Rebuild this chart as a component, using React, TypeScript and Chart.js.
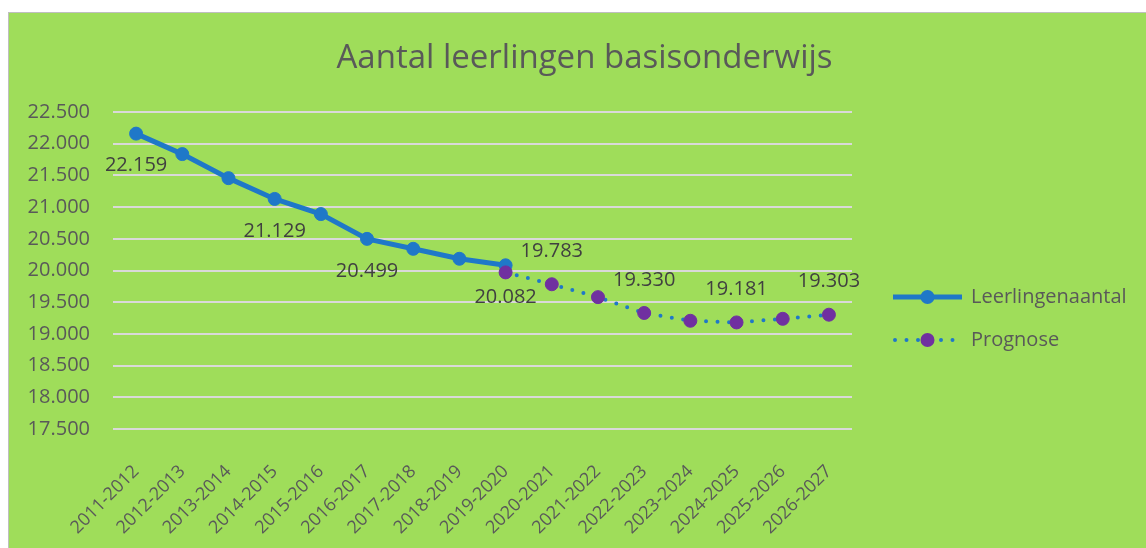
import React, { useEffect, useRef } from "react";
import { Chart, registerables } from "chart.js";

Chart.register(...registerables);

const titleText = "Aantal leerlingen basisonderwijs";
const categories = [
  "2011-2012", "2012-2013", "2013-2014", "2014-2015", "2015-2016", "2016-2017",
  "2017-2018", "2018-2019", "2019-2020", "2020-2021", "2021-2022", "2022-2023",
  "2023-2024", "2024-2025", "2025-2026", "2026-2027",
];
const seriesNames = ["Leerlingenaantal", "Prognose"];
const leerlingen = [22159, 21836, 21457, 21129, 20890, 20499, 20342, 20185, 20082, null, null, null, null, null, null, null];
const prognose = [null, null, null, null, null, null, null, null, 19970, 19783, 19580, 19330, 19207, 19181, 19238, 19303];
const leerlingenLabelIdx = [0, 3, 5, 8];
const prognoseLabelIdx = [9, 11, 13, 15];
const yMin = 17500;
const yMax = 22500;
const yStep = 500;

const BLUE = "#1F78C8";
const PURPLE = "#7030A0";
const BG = "#9FDD5A";
const FONT = '"Open Sans", sans-serif';

const fmt = (v: number) => String(Math.round(v)).replace(/\B(?=(\d{3})+(?!\d))/g, ".");

const overlay = {
  id: "overlay",
  afterDatasetsDraw(chart: any) {
    const ctx = chart.ctx;
    ctx.save();
    ctx.font = `20px ${FONT}`;
    ctx.fillStyle = "#404040";
    ctx.textAlign = "center";
    ctx.textBaseline = "middle";
    const blueMeta = chart.getDatasetMeta(1);
    leerlingenLabelIdx.forEach((i) => {
      const p = blueMeta.data[i];
      const v = leerlingen[i];
      if (p && v != null) ctx.fillText(fmt(v), p.x, p.y + 32);
    });
    const progMeta = chart.getDatasetMeta(0);
    prognoseLabelIdx.forEach((i) => {
      const p = progMeta.data[i];
      const v = prognose[i];
      if (p && v != null) ctx.fillText(fmt(v), p.x, p.y - 33);
    });
    ctx.restore();
  },
  afterDraw(chart: any) {
    const ctx = chart.ctx;
    const ca = chart.chartArea;
    ctx.save();
    // title
    ctx.font = `33px ${FONT}`;
    ctx.fillStyle = "#595959";
    ctx.textAlign = "center";
    ctx.textBaseline = "middle";
    ctx.fillText(titleText, chart.width / 2 + 7, 46);

    // legend
    const lx0 = ca.right + 41;
    const lx1 = ca.right + 110;
    const tx = ca.right + 119;
    const y1 = ca.top + 185;
    const y2 = ca.top + 228;
    ctx.lineCap = "butt";
    ctx.strokeStyle = BLUE;
    ctx.lineWidth = 5;
    ctx.beginPath();
    ctx.moveTo(lx0, y1);
    ctx.lineTo(lx1, y1);
    ctx.stroke();
    ctx.fillStyle = BLUE;
    ctx.beginPath();
    ctx.arc((lx0 + lx1) / 2, y1, 7, 0, Math.PI * 2);
    ctx.fill();

    ctx.lineCap = "round";
    ctx.lineWidth = 4;
    ctx.setLineDash([0, 11.5]);
    ctx.beginPath();
    ctx.moveTo(lx0 + 2, y2);
    ctx.lineTo(lx1 - 4, y2);
    ctx.stroke();
    ctx.setLineDash([]);
    ctx.fillStyle = PURPLE;
    ctx.beginPath();
    ctx.arc((lx0 + lx1) / 2, y2, 7, 0, Math.PI * 2);
    ctx.fill();

    ctx.font = `20px ${FONT}`;
    ctx.fillStyle = "#595959";
    ctx.textAlign = "left";
    ctx.fillText(seriesNames[0], tx, y1);
    ctx.fillText(seriesNames[1], tx, y2);
    ctx.restore();
  },
};

export default function App() {
  const ref = useRef<HTMLCanvasElement | null>(null);

  useEffect(() => {
    if (!ref.current) return;
    const chart = new Chart(ref.current, {
      type: "line",
      data: {
        labels: categories,
        datasets: [
          {
            label: seriesNames[1],
            data: prognose,
            borderColor: BLUE,
            borderWidth: 4,
            borderDash: [0, 11.5],
            borderCapStyle: "round",
            pointBackgroundColor: PURPLE,
            pointBorderColor: PURPLE,
            pointRadius: 6.5,
            pointBorderWidth: 1,
            tension: 0,
            spanGaps: false,
          },
          {
            label: seriesNames[0],
            data: leerlingen,
            borderColor: BLUE,
            borderWidth: 5,
            pointBackgroundColor: BLUE,
            pointBorderColor: BLUE,
            pointRadius: 6.5,
            pointBorderWidth: 1,
            tension: 0,
          },
        ],
      } as any,
      options: {
        animation: false,
        responsive: true,
        maintainAspectRatio: false,
        layout: { padding: { top: 99, right: 294, left: 0, bottom: 0 } },
        plugins: {
          legend: { display: false },
          title: { display: false },
          tooltip: { enabled: false },
        },
        scales: {
          x: {
            type: "category",
            offset: true,
            grid: { display: false },
            border: { display: false },
            ticks: {
              minRotation: 45,
              maxRotation: 45,
              autoSkip: false,
              padding: 24,
              color: "#595959",
              font: { family: FONT, size: 18 },
            },
            afterFit: (s: any) => {
              s.height = 119;
            },
          },
          y: {
            min: yMin,
            max: yMax,
            border: { display: false },
            grid: { color: "#D9D9D9", lineWidth: 2, drawTicks: false },
            ticks: {
              stepSize: yStep,
              padding: 23,
              color: "#595959",
              font: { family: FONT, size: 20 },
              callback: (v: any) => fmt(Number(v)),
            },
            afterFit: (s: any) => {
              s.width = 104;
            },
          },
        },
      } as any,
      plugins: [overlay],
    });
    return () => chart.destroy();
  }, []);

  return (
    <div
      style={{
        position: "absolute",
        left: 8,
        top: 12,
        width: 1138,
        height: 536,
        boxSizing: "border-box",
        borderLeft: "1px solid #bfbfbf",
        borderTop: "1px solid #bfbfbf",
        background: BG,
      }}
    >
      <div style={{ position: "relative", width: "100%", height: "100%" }}>
        <canvas ref={ref} />
      </div>
    </div>
  );
}
